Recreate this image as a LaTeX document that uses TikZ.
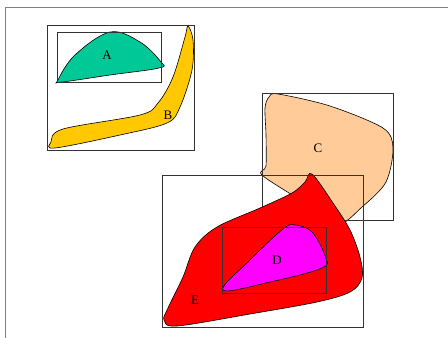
\documentclass[tikz,border=0pt]{standalone}
\usepackage{fontspec}
\setmainfont{Liberation Serif}
\begin{document}
\begin{tikzpicture}[x=1pt,y=-1pt,
  blob/.style={draw=black,line width=0.6pt},
  frame/.style={draw=black!80,line width=0.6pt},
  lbl/.style={font=\fontsize{13}{14}\selectfont,inner sep=0pt}]
\useasboundingbox (0,0) rectangle (448,338);
\fill[white] (0,0) rectangle (448,338);
% outer cropped frame
\draw[gray,line width=0.8pt] (5,338) -- (5,7) -- (448,7);
% group 1
\draw[frame] (47,25) rectangle (194,150);
\filldraw[blob,fill={rgb,255:red,0;green,200;blue,150}]
  plot[smooth cycle,tension=0.6] coordinates {(58,80) (75,55) (110,32) (140,42) (161,62) (159,68) (110,75) (62,82)};
\draw[frame] (57,32) rectangle (161,82);
\filldraw[blob,fill={rgb,255:red,255;green,200;blue,0}]
  plot[smooth cycle,tension=0.55] coordinates {(188,26) (193,40) (192,70) (180,107) (167,123) (120,135) (55,148) (51,142) (63,129) (140,115) (158,103) (173,77) (185,37)};
\node[lbl] (A) at (107,55) {A};
\node[lbl] (B) at (168,115) {B};
% group 2
\filldraw[blob,fill={rgb,255:red,255;green,204;blue,153}]
  plot[smooth cycle,tension=0.5] coordinates {(278,94) (330,106) (383,128) (393,148) (386,182) (362,207) (336,225) (300,200) (262,175) (266,166) (266,135) (265,108) (269,97)};
\draw[frame] (262,93) rectangle (393,220);
\node[lbl] (C) at (318,148) {C};
\filldraw[blob,fill=red]
  plot[smooth cycle,tension=0.55] coordinates {(312,174) (333,203) (350,230) (360,257) (362,278) (350,292) (317,302) (250,314) (177,326) (164,320) (168,308) (183,277) (195,247) (217,227) (260,208) (292,193) (305,182)};
\filldraw[blob,fill={rgb,255:red,255;green,0;blue,255}]
  plot[smooth cycle,tension=0.6] coordinates {(223,290) (250,260) (283,229) (295,225) (312,232) (325,256) (322,268) (270,282)};
\draw[frame] (162,175) rectangle (363,327);
\draw[frame] (222,227) rectangle (326,293);
\node[lbl] (D) at (277,260) {D};
\node[lbl] (E) at (195,300) {E};
\end{tikzpicture}
\end{document}
